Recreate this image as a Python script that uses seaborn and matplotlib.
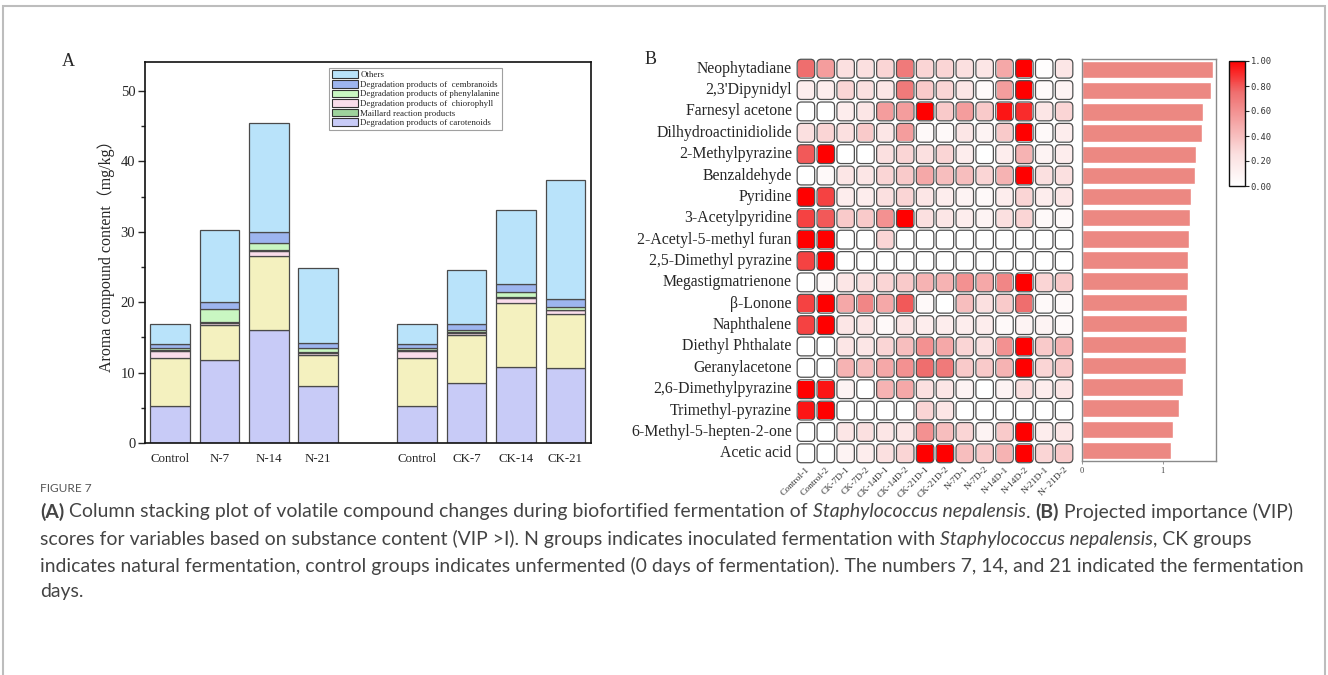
import numpy as np
import pandas as pd
import matplotlib
matplotlib.use("Agg")
import matplotlib.pyplot as plt
from matplotlib.colors import LinearSegmentedColormap
from matplotlib.patches import FancyBboxPatch, Rectangle, Patch
import seaborn as sns

# ---------------- data: panel A ----------------
groups = ["Control", "N-7", "N-14", "N-21", "Control", "CK-7", "CK-14", "CK-21"]
group_pos = [0, 1, 2, 3, 5, 6, 7, 8]
carotenoids = [5.2, 11.75, 16.0, 8.15, 5.2, 8.5, 10.75, 10.6]
unlabeled = [6.9, 5.0, 10.55, 4.35, 6.9, 6.8, 9.15, 7.75]
chlorophyll = [0.9, 0.3, 0.7, 0.3, 0.9, 0.3, 0.7, 0.5]
maillard = [0.15, 0.15, 0.1, 0.15, 0.15, 0.2, 0.15, 0.1]
phenylalanine = [0.35, 1.8, 1.1, 0.55, 0.35, 0.2, 0.7, 0.4]
cembranoids = [0.5, 1.0, 1.45, 0.75, 0.5, 0.85, 1.1, 1.05]
others = [2.95, 10.2, 15.5, 10.55, 2.95, 7.75, 10.55, 16.9]

stack_names = ["Degradation products of carotenoids", None,
               "Degradation products of  chiorophyll", "Maillard reaction products",
               "Degradation products of phenylalanine", "Degradation products of  cembranoids",
               "Others"]
stack_values = [carotenoids, unlabeled, chlorophyll, maillard, phenylalanine, cembranoids, others]
stack_colors = ["#C8CBF7", "#F4F1BF", "#FADDEB", "#9ED39C", "#C9F7C2", "#9DB5EF", "#B9E3FA"]

# ---------------- data: panel B ----------------
compounds = ["Neophytadiane", "2,3'Dipynidyl", "Farnesyl acetone", "Dilhydroactinidiolide",
             "2-Methylpyrazine", "Benzaldehyde", "Pyridine", "3-Acetylpyridine",
             "2-Acetyl-5-methyl furan", "2,5-Dimethyl pyrazine", "Megastigmatrienone",
             "β-Lonone", "Naphthalene", "Diethyl Phthalate", "Geranylacetone",
             "2,6-Dimethylpyrazine", "Trimethyl-pyrazine", "6-Methyl-5-hepten-2-one", "Acetic acid"]
samples = ["Control-1", "Control-2", "CK-7D-1", "CK-7D-2", "CK-14D-1", "CK-14D-2",
           "CK-21D-1", "CK-21D-2", "N-7D-1", "N-7D-2", "N-14D-1", "N-14D-2", "N-21D-1", "N- 21D-2"]
heat = [
    [0.75, 0.55, 0.25, 0.25, 0.30, 0.70, 0.30, 0.30, 0.25, 0.20, 0.50, 1.00, 0.02, 0.20],
    [0.15, 0.15, 0.30, 0.25, 0.20, 0.70, 0.35, 0.30, 0.20, 0.05, 0.55, 1.00, 0.05, 0.10],
    [0.00, 0.00, 0.15, 0.20, 0.55, 0.55, 1.00, 0.35, 0.55, 0.35, 0.95, 0.90, 0.20, 0.30],
    [0.25, 0.30, 0.25, 0.35, 0.20, 0.55, 0.05, 0.05, 0.20, 0.10, 0.35, 1.00, 0.05, 0.15],
    [0.80, 1.00, 0.00, 0.00, 0.25, 0.30, 0.25, 0.30, 0.15, 0.00, 0.15, 0.45, 0.10, 0.15],
    [0.00, 0.05, 0.20, 0.20, 0.30, 0.35, 0.50, 0.40, 0.40, 0.30, 0.45, 1.00, 0.25, 0.25],
    [1.00, 0.85, 0.15, 0.15, 0.25, 0.30, 0.20, 0.15, 0.10, 0.05, 0.15, 0.30, 0.15, 0.20],
    [0.85, 0.80, 0.35, 0.35, 0.60, 1.00, 0.25, 0.20, 0.15, 0.10, 0.25, 0.30, 0.05, 0.05],
    [1.00, 1.00, 0.00, 0.00, 0.30, 0.00, 0.00, 0.00, 0.00, 0.00, 0.00, 0.00, 0.00, 0.00],
    [0.85, 1.00, 0.00, 0.00, 0.00, 0.00, 0.00, 0.00, 0.00, 0.00, 0.00, 0.00, 0.00, 0.00],
    [0.00, 0.05, 0.20, 0.25, 0.30, 0.35, 0.45, 0.45, 0.60, 0.50, 0.65, 1.00, 0.30, 0.35],
    [0.85, 1.00, 0.50, 0.65, 0.50, 0.80, 0.05, 0.00, 0.40, 0.25, 0.35, 0.75, 0.05, 0.05],
    [0.85, 1.00, 0.20, 0.20, 0.05, 0.20, 0.15, 0.15, 0.15, 0.15, 0.05, 0.10, 0.10, 0.05],
    [0.00, 0.00, 0.20, 0.20, 0.30, 0.40, 0.60, 0.50, 0.30, 0.25, 0.60, 1.00, 0.35, 0.45],
    [0.00, 0.00, 0.45, 0.40, 0.50, 0.60, 0.75, 0.70, 0.35, 0.35, 0.45, 1.00, 0.30, 0.35],
    [1.00, 0.95, 0.10, 0.00, 0.45, 0.50, 0.25, 0.20, 0.10, 0.00, 0.10, 0.25, 0.15, 0.20],
    [0.95, 1.00, 0.00, 0.00, 0.00, 0.00, 0.30, 0.20, 0.00, 0.00, 0.00, 0.00, 0.00, 0.00],
    [0.00, 0.00, 0.20, 0.25, 0.20, 0.20, 0.60, 0.40, 0.30, 0.10, 0.35, 1.00, 0.15, 0.20],
    [0.00, 0.00, 0.10, 0.15, 0.25, 0.30, 1.00, 1.00, 0.40, 0.35, 0.45, 1.00, 0.30, 0.35],
]
vip = [1.625, 1.60, 1.50, 1.49, 1.41, 1.40, 1.35, 1.34, 1.325, 1.31,
       1.31, 1.30, 1.295, 1.29, 1.29, 1.25, 1.20, 1.13, 1.10]
cbar_ticks = [0.0, 0.2, 0.4, 0.6, 0.8, 1.0]
vip_ticks = [0, 1]

caption_title = "FIGURE 7"
caption_lines = [
    [("(A)", "bold", "normal"), (" Column stacking plot of volatile compound changes during biofortified fermentation of ", "normal", "normal"),
     ("Staphylococcus nepalensis", "normal", "italic"), (". ", "normal", "normal"), ("(B)", "bold", "normal"),
     (" Projected importance (VIP)", "normal", "normal")],
    [("scores for variables based on substance content (VIP >I). N groups indicates inoculated fermentation with ", "normal", "normal"),
     ("Staphylococcus nepalensis", "normal", "italic"), (", CK groups", "normal", "normal")],
    [("indicates natural fermentation, control groups indicates unfermented (0 days of fermentation). The numbers 7, 14, and 21 indicated the fermentation", "normal", "normal")],
    [("days.", "normal", "normal")],
]

# ---------------- figure ----------------
sns.set_style("white")
plt.rcParams["font.family"] = ["Liberation Serif", "Noto Sans CJK SC", "DejaVu Sans"]
W, H = 1328, 675
fig = plt.figure(figsize=(W / 100, H / 100), dpi=100)

def box(x0, y0, x1, y1):
    return [x0 / W, 1 - y1 / H, (x1 - x0) / W, (y1 - y0) / H]

# outer frame
fig.patches.append(Rectangle((3 / W, -0.02), (1322) / W, 1 - 6 / H + 0.02, transform=fig.transFigure,
                             fill=False, edgecolor="#BDBDBD", linewidth=1.5))

# ---------- Panel A ----------
axA = fig.add_axes(box(145, 62, 591, 443))
bottoms = np.zeros(len(groups))
handles = {}
for name, vals, col in zip(stack_names, stack_values, stack_colors):
    vals = np.asarray(vals, dtype=float)
    df = pd.DataFrame({"pos": group_pos, "val": vals})
    sns.barplot(data=df, x="pos", y="val", native_scale=True, color=col, saturation=1,
                errorbar=None, bottom=bottoms, edgecolor="#4a4a4a", linewidth=0.9, ax=axA, width=0.8)
    if name is not None:
        handles[name] = Patch(facecolor=col, edgecolor="#333333", linewidth=0.8)
    bottoms = bottoms + vals

axA.set_xlim(-0.506, 8.52)
axA.set_ylim(0, 54.1)
axA.set_xticks(group_pos)
axA.set_xticklabels(groups, fontsize=9.3)
axA.set_yticks(np.arange(0, 51, 10))
axA.set_yticks(np.arange(5, 55, 10), minor=True)
axA.tick_params(axis="y", which="major", left=True, direction="out", length=5, width=1, labelsize=10.5, pad=2)
axA.tick_params(axis="y", which="minor", left=True, direction="out", length=3, width=1)
axA.tick_params(axis="x", bottom=False, labelsize=9.3, pad=4)
axA.set_xlabel("")
axA.set_ylabel("Aroma compound content（mg/kg）", fontsize=11.5, labelpad=4)
for s in axA.spines.values():
    s.set_color("#111111")
    s.set_linewidth(1.2)
leg_order = ["Others", "Degradation products of  cembranoids", "Degradation products of phenylalanine",
             "Degradation products of  chiorophyll", "Maillard reaction products",
             "Degradation products of carotenoids"]
leg = axA.legend([handles[k] for k in leg_order], leg_order, loc="upper left",
                 bbox_to_anchor=(0.413, 0.985), fontsize=6.4, frameon=True, fancybox=False,
                 edgecolor="#888888", handlelength=2.9, handleheight=0.95, handletextpad=0.3,
                 labelspacing=0.08, borderpad=0.3, borderaxespad=0)
leg.get_frame().set_linewidth(0.8)
fig.text(68 / W, 1 - 62 / H, "A", fontsize=13, ha="center", va="center")

# ---------- Panel B heatmap ----------
axH = fig.add_axes(box(796, 58, 1074, 464))
cax = fig.add_axes(box(1229, 61, 1245, 186))
cmap = LinearSegmentedColormap.from_list("wr", ["#FFFFFF", "#FBE0E0", "#F5A8A8", "#EF6F6F", "#FF0000"])
hdf = pd.DataFrame(heat, index=compounds, columns=samples)
sns.heatmap(hdf, ax=axH, cmap=cmap, vmin=0, vmax=1, cbar_ax=cax, linewidths=1.6, linecolor="white",
            cbar_kws={"ticks": cbar_ticks, "format": "%.2f"})
nr, nc = hdf.shape
for i in range(nr):
    for j in range(nc):
        axH.add_patch(FancyBboxPatch((j + 0.06, i + 0.06), 0.88, 0.88,
                                     boxstyle="round,pad=0,rounding_size=0.2",
                                     fill=False, edgecolor="#505050", linewidth=0.9, zorder=3))
axH.set_xlabel("")
axH.set_ylabel("")
axH.set_yticklabels(compounds, rotation=0, fontsize=11.3)
axH.set_xticklabels(samples, rotation=45, ha="right", rotation_mode="anchor", fontsize=6.8, color="#333333")
axH.tick_params(axis="both", length=0, pad=1)
axH.tick_params(axis="y", pad=3)
fig.text(651 / W, 1 - 60 / H, "B", fontsize=13, ha="center", va="center")

cax.tick_params(labelsize=6.3, length=3, width=0.8, direction="out", right=True, pad=1)
for lab in cax.get_yticklabels():
    lab.set_family("DejaVu Sans Mono")
    lab.set_color("#333333")
cbar = axH.collections[0].colorbar
cbar.outline.set_edgecolor("#111111")
cbar.outline.set_linewidth(1.0)

# ---------- VIP bars ----------
axV = fig.add_axes(box(1082, 59, 1216, 461))
vdf = pd.DataFrame({"compound": compounds, "vip": vip})
sns.barplot(data=vdf, y="compound", x="vip", orient="h", color="#EC8882", saturation=1,
            errorbar=None, width=0.82, ax=axV)
axV.set_xlim(0, 1.66)
axV.set_xticks(vip_ticks)
axV.set_xticklabels([str(t) for t in vip_ticks], fontsize=6, color="#444444")
axV.tick_params(axis="x", bottom=True, length=2, width=0.6, pad=2, color="#888888")
axV.set_yticks([])
axV.set_xlabel("")
axV.set_ylabel("")
for s in axV.spines.values():
    s.set_color("#8a8a8a")
    s.set_linewidth(1.0)

# ---------- caption ----------
cap_family = ["Lato", "DejaVu Sans"]
cap_color = "#444444"
fig.text(40 / W, 1 - 489 / H, caption_title, fontsize=8.6, family=cap_family, color="#555555", va="center")

fig.canvas.draw()
renderer = fig.canvas.get_renderer()

def measure(s, size, weight="normal", style="normal"):
    t = fig.text(0, 0, s, fontsize=size, family=cap_family, weight=weight, style=style)
    w = t.get_window_extent(renderer).width
    t.remove()
    return w

def run_width(text, size, weight, style):
    core = text.strip(" ")
    lead = len(text) - len(text.lstrip(" "))
    trail = len(text) - len(text.rstrip(" "))
    sp = measure("a a", size) - measure("aa", size)
    return core, lead, trail, sp, (measure(core, size, weight, style) if core else 0)

base = 11.5
total = 0
for text, wt, st in caption_lines[0]:
    core, lead, trail, sp, w = run_width(text, base, wt, st)
    total += w + (lead + trail) * sp
cap_size = base * 1250 / total

ys = [512, 539, 566, 592]
for line, yp in zip(caption_lines, ys):
    x = 40.0
    for text, wt, st in line:
        core, lead, trail, sp, w = run_width(text, cap_size, wt, st)
        x += lead * sp
        if core:
            fig.text(x / W, 1 - yp / H, core, fontsize=cap_size, family=cap_family, weight=wt,
                     style=st, color=cap_color, va="center", ha="left")
        x += w + trail * sp

fig.savefig("out.png", dpi=100)
